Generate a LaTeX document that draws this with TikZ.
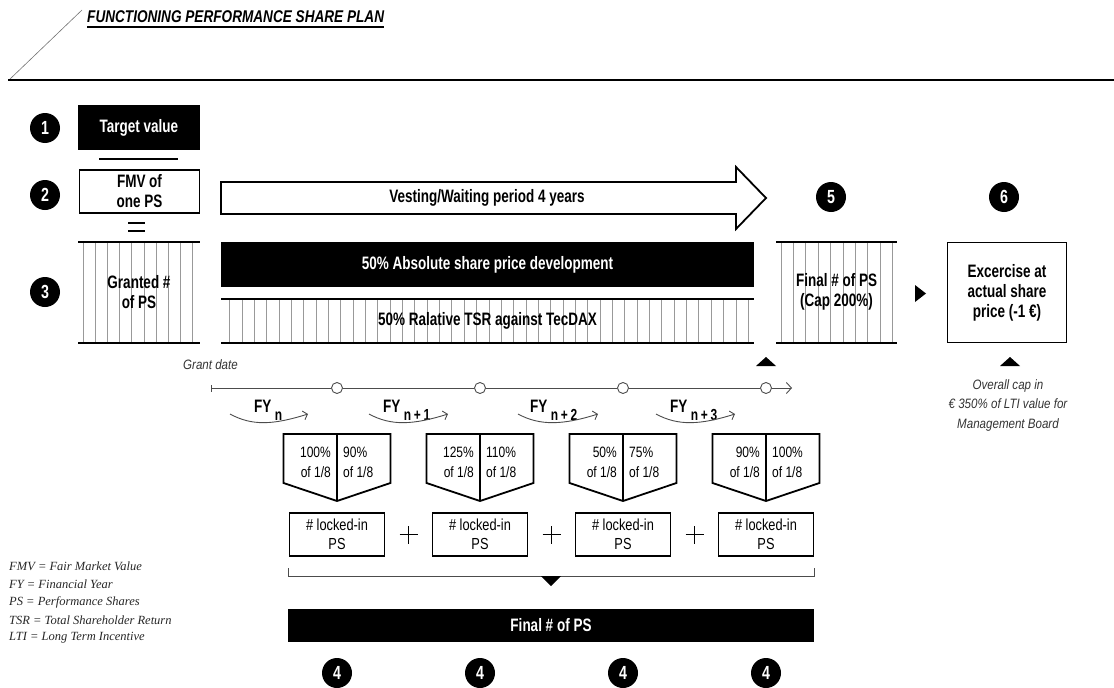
\documentclass[tikz,border=0pt]{standalone}
\usepackage{fontspec}
\setmainfont{Liberation Sans}
\newfontfamily\condB[FakeStretch=0.75]{Liberation Sans}
\newfontfamily\condR[FakeStretch=0.8]{Liberation Sans}
\newfontfamily\condI[FakeStretch=0.85]{Liberation Sans}
\newfontfamily\legfont{Liberation Serif}
\usetikzlibrary{arrows.meta,calc}

\tikzset{
 bl/.style={font=\condB\bfseries\fontsize{18}{20}\selectfont, align=center, inner sep=0pt},
 rl/.style={font=\condR\fontsize{15}{20}\selectfont, inner sep=0pt},
 lkf/.style={font=\condR\fontsize{16}{19}\selectfont, inner sep=0pt, align=center},
 il/.style={font=\condI\itshape\fontsize{13.6}{19.5}\selectfont, inner sep=0pt, text=black!80},
 legl/.style={font=\legfont\itshape\fontsize{12.5}{18}\selectfont, inner sep=0pt, anchor=west, text=black!85},
 numc/.style={circle, fill=black, minimum size=30pt, inner sep=0pt, text=white, font=\condB\bfseries\fontsize{19}{19}\selectfont},
 fy/.style={font=\condB\bfseries\fontsize{18}{18}\selectfont, inner sep=0pt, anchor=base west},
 thickbar/.style={line width=2.6pt},
 hatch/.style={line width=0.7pt, black!40},
 box/.style={draw, line width=1.8pt},
 gl/.style={line width=0.9pt, black!70},
 tlc/.style={circle, draw=black!70, fill=white, line width=0.9pt, minimum size=11pt, inner sep=0pt},
 blackbox/.style={fill=black, text=white, bl},
 shield/.style={line width=1.8pt, line join=miter},
 yarrow/.style={gl, -{Straight Barb[length=4pt,width=9pt]}},
}

\begin{document}
\begin{tikzpicture}[x=1pt,y=-1pt]
\useasboundingbox (0,0) rectangle (1114,688);

% ---- header
\draw[black!55, line width=0.6pt] (9,80) -- (82,10);
\draw[line width=2.8pt] (8,80) -- (1114,80);
\node[font=\condR\bfseries\itshape\fontsize{17}{17}\selectfont, inner sep=0pt, anchor=base west] (title) at (87,23) {FUNCTIONING PERFORMANCE SHARE PLAN};
\draw[line width=1.4pt] ([yshift=-4pt]title.base west) -- ([yshift=-4pt]title.base east);

% ---- numbered circles
\node[numc] (n1) at (45,128) {1};
\node[numc] (n2) at (45,195) {2};
\node[numc] (n3) at (45,292) {3};
\node[numc] (n5) at (831,197) {5};
\node[numc] (n6) at (1004,197) {6};

% ---- left column
\node[blackbox, minimum width=122pt, minimum height=45pt] (tv) at (139,127.5) {Target value};
\draw[line width=2pt] (99,159) -- (178,159);
\node[box, bl, minimum width=120pt, minimum height=43pt] (fmv) at (139.5,191.5) {FMV of\\one PS};
\draw[line width=2pt] (128,223) -- (145,223) (128,231) -- (145,231);
\foreach \i in {0,...,9} \draw[hatch] ({83+12.2*\i},242) -- ({83+12.2*\i},343);
\draw[thickbar] (78,242) -- (200,242) (78,343) -- (200,343);
\node[bl] (gr) at (139,292) {Granted \#\\of PS};

% ---- vesting arrow
\draw[line width=1.8pt, line join=miter] (221,182) -- (736,182) -- (736,167) -- (766,198) -- (736,229) -- (736,214) -- (221,214) -- cycle;
\node[bl] (vest) at (487,198) {Vesting/Waiting period 4 years};

% ---- performance bars
\node[blackbox, minimum width=533pt, minimum height=45pt] (abs) at (487.5,264.5) {50\% Absolute share price development};
\foreach \i in {0,...,42} \draw[hatch] ({229.5+12.35*\i},299) -- ({229.5+12.35*\i},343);
\draw[thickbar] (221,299) -- (754,299) (221,343) -- (754,343);
\node[bl] (tsr) at (487.5,321) {50\% Ralative TSR against TecDAX};

% ---- final number of PS
\foreach \i in {0,...,9} \draw[hatch] ({781+12.4*\i},242) -- ({781+12.4*\i},343);
\draw[thickbar] (776,242) -- (897,242) (776,343) -- (897,343);
\node[bl] (fps) at (836.5,292) {Final \# of PS\\(Cap 200\%)};
\fill (915,285) -- (926,293.5) -- (915,302) -- cycle;
\node[box, bl, minimum width=119pt, minimum height=100pt] (exc) at (1007,292.5) {Excercise at\\actual share\\price (-1 €)};

\fill (756,366) -- (766,357) -- (776,366) -- cycle;
\fill (1000,366) -- (1010,357) -- (1020,366) -- cycle;
\node[il, align=center] (cap) at (1008,405) {Overall cap in\\€ 350\% of LTI value for\\Management Board};

% ---- timeline
\node[il, anchor=west] (gd) at (183,365) {Grant date};
\coordinate (ts) at (211,388);
\coordinate (te) at (792,388);
\foreach \x/\n in {337/1,480/2,623/3,766/4} \node[tlc] (t\n) at (\x,388) {};
\draw[gl, {Bar[width=7pt]}-] (ts) -- (t1);
\draw[gl] (t1) -- (t2);
\draw[gl] (t2) -- (t3);
\draw[gl] (t3) -- (t4);
\draw[gl, -{Straight Barb[length=5pt,width=11pt]}] (t4) -- (te);

% ---- FY labels and curved arrows
\node[fy] (fy1) at (254,412) {FY\hspace{3.5pt}\raisebox{-8pt}{\fontsize{16}{16}\selectfont n}};
\node[fy] (fy2) at (383,412) {FY\hspace{3.5pt}\raisebox{-8pt}{\fontsize{16}{16}\selectfont n\,+\,1}};
\node[fy] (fy3) at (530,412) {FY\hspace{3.5pt}\raisebox{-8pt}{\fontsize{16}{16}\selectfont n\,+\,2}};
\node[fy] (fy4) at (670,412) {FY\hspace{3.5pt}\raisebox{-8pt}{\fontsize{16}{16}\selectfont n\,+\,3}};
\foreach \a/\b/\n in {230/308/1,369/448/2,518/598/3,656/735/4}{
  \coordinate (ya\n) at (\a,414);
  \coordinate (yb\n) at (\b,414);
  \draw[yarrow] (ya\n) .. controls ({\a+22},426) and ({\b-35},425) .. (yb\n);
}

% ---- shields
\foreach \cx/\l/\r/\n in {337/100\%/90\%/1,480/125\%/110\%/2,623/50\%/75\%/3,766/90\%/100\%/4}{
  \draw[shield] ({\cx-53.5},434) -- ({\cx+53.5},434) -- ({\cx+53.5},483) -- (\cx,501) -- ({\cx-53.5},483) -- cycle;
  \draw[line width=1.8pt] (\cx,434) -- (\cx,501);
  \node[rl, align=right, anchor=east] (sl\n) at ({\cx-6},462) {\l\\of 1/8};
  \node[rl, align=left, anchor=west] (sr\n) at ({\cx+6},462) {\r\\of 1/8};
  \node[box, lkf, minimum width=95pt, minimum height=43pt] (lk\n) at (\cx,534.5) {\# locked-in\\PS};
  \node[numc] (f\n) at (\cx,673) {4};
}

% ---- plus signs
\foreach \a/\b in {1/2,2/3,3/4}{
  \coordinate (p\a) at ($(lk\a.east)!0.5!(lk\b.west)$);
  \draw[line width=1.6pt] ([xshift=-9pt]p\a) -- ([xshift=9pt]p\a) ([yshift=-9pt]p\a) -- ([yshift=9pt]p\a);
}

% ---- bracket and final bar
\draw[gl] (288,568) -- (288,576) -- (814,576) -- (814,568);
\fill (541,576) -- (561,576) -- (551,586) -- cycle;
\node[blackbox, minimum width=526pt, minimum height=33pt] (fin) at (551,625.5) {Final \# of PS};

% ---- legend
\node[legl] (lg1) at (9,566) {FMV = Fair Market Value};
\node[legl] (lg2) at (9,584) {FY = Financial Year};
\node[legl] (lg3) at (9,602) {PS = Performance Shares};
\node[legl] (lg4) at (9,620) {TSR = Total Shareholder Return};
\node[legl] (lg5) at (9,638) {LTI = Long Term Incentive};
\end{tikzpicture}
\end{document}
